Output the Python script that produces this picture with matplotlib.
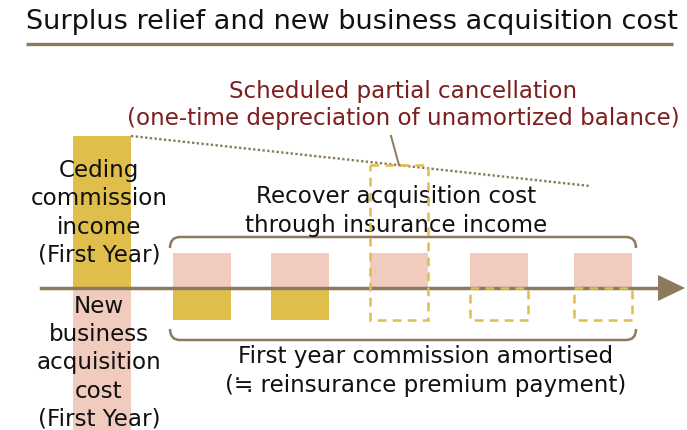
import matplotlib.pyplot as plt
from matplotlib.patches import Rectangle, Polygon, PathPatch
from matplotlib.path import Path

# values in "amortisation units" (one year of first-year commission amortised = 1)
years = [1, 2, 3, 4, 5]
year_x = [202, 300, 399, 499, 603]
insurance_income = [1.1, 1.1, 1.1, 1.1, 1.1]
amortised = [1.0, 1.0, 1.0, 1.0, 1.0]
amortised_realised = [True, True, False, False, False]
ceding_commission = 4.75
acquisition_cost = 4.5
cancel_year = 3
unamortised_at_cancel = 3.85

GOLD = "#DFBE4B"
PINK = "#F2CBBF"
TAUPE = "#8B7B5C"
RED = "#7E1F1F"
FONT = ["DejaVu Sans", "Noto Sans CJK JP"]

AXIS_Y = 288
UNIT_PX = 32
BAR_W = 58
DASH = (0, (3.5, 2.5))


def ypix(v):
    return AXIS_Y - v * UNIT_PX


fig = plt.figure(figsize=(6.87, 4.30), dpi=100)
ax = fig.add_axes([0, 0, 1, 1])
ax.set_xlim(0, 687)
ax.set_ylim(430, 0)
ax.axis("off")

# title + rule
ax.text(351.5, 22, "Surplus relief and new business acquisition cost",
        ha="center", va="center", fontsize=19.5, family=FONT, color="#111111")
ax.plot([26, 673], [44, 44], color=TAUPE, lw=2.4, solid_capstyle="butt")

# first year bars
ax.add_patch(Rectangle((73, ypix(ceding_commission)), BAR_W,
                       ceding_commission * UNIT_PX, color=GOLD, lw=0))
ax.add_patch(Rectangle((73, AXIS_Y), BAR_W, acquisition_cost * UNIT_PX,
                       color=PINK, lw=0))

# yearly bars
for yr, x, inc, am, done in zip(years, year_x, insurance_income,
                                amortised, amortised_realised):
    left = x - BAR_W / 2
    ax.add_patch(Rectangle((left, ypix(inc)), BAR_W, inc * UNIT_PX,
                           color=PINK, lw=0))
    if done:
        ax.add_patch(Rectangle((left, AXIS_Y), BAR_W, am * UNIT_PX,
                               color=GOLD, lw=0))
    elif yr == cancel_year:
        ax.add_patch(Rectangle((left, ypix(unamortised_at_cancel)), BAR_W,
                               (unamortised_at_cancel + am) * UNIT_PX,
                               fill=False, ec=GOLD, lw=1.8, ls=DASH, zorder=4))
    else:
        ax.add_patch(Rectangle((left, AXIS_Y), BAR_W, am * UNIT_PX,
                               fill=False, ec=GOLD, lw=1.8, ls=DASH, zorder=4))

# time axis
ax.plot([41, 662], [AXIS_Y, AXIS_Y], color=TAUPE, lw=2.5, zorder=3)
ax.add_patch(Polygon([[658, AXIS_Y - 13], [685, AXIS_Y], [658, AXIS_Y + 13]],
                     closed=True, color=TAUPE, lw=0, zorder=3))

# dotted line from ceding commission top to the cancellation
ax.plot([131, 590], [ypix(ceding_commission), 186], color=TAUPE, lw=1.7,
        ls=(0, (1, 1)))
ax.plot([391, 399], [136, 165], color=TAUPE, lw=1.4)


# brackets
def bracket(y, tip, x0=170, x1=636, r=10):
    verts = [(x0, tip), (x0, y), (x0 + r, y), (x1 - r, y), (x1, y), (x1, tip)]
    codes = [Path.MOVETO, Path.CURVE3, Path.CURVE3, Path.LINETO,
             Path.CURVE3, Path.CURVE3]
    ax.add_patch(PathPatch(Path(verts, codes), fill=False, ec=TAUPE, lw=1.8))


bracket(237, 248)
bracket(340, 329)

# texts
body = dict(ha="center", va="center", fontsize=16.6, color="#111111",
            family=FONT, linespacing=1.28)
ax.text(403, 105, "Scheduled partial cancellation\n"
        "(one-time depreciation of unamortized balance)",
        ha="center", va="center", fontsize=16.6, color=RED, family=FONT,
        linespacing=1.18)
ax.text(99, 213, "Ceding\ncommission\nincome\n(First Year)", **body)
ax.text(99, 363, "New\nbusiness\nacquisition\ncost\n(First Year)", **body)
ax.text(396, 211, "Recover acquisition cost\nthrough insurance income", **body)
ax.text(426, 371, "First year commission amortised\n"
        "(\u2252 reinsurance premium payment)", **body)

fig.savefig("out.png", dpi=100)
